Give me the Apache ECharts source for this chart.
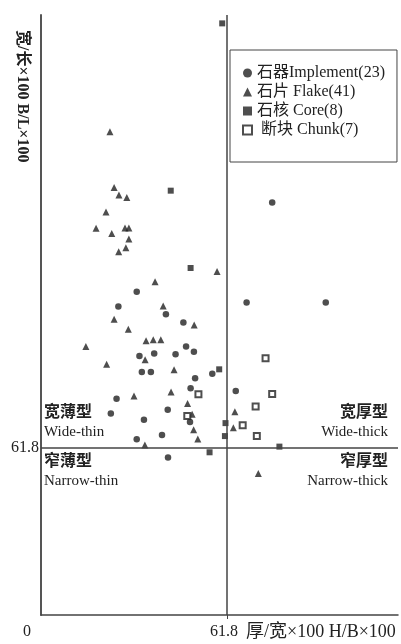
<!DOCTYPE html>
<html><head><meta charset="utf-8">
<script src="https://cdn.jsdelivr.net/npm/echarts@6/dist/echarts.min.js"></script>
<style>html,body{margin:0;padding:0;background:#fff}#c{width:401px;height:644px}</style>
</head><body><div id="c"></div>
<script>
// ---- data (x = 厚/宽×100, y = 宽/长×100) ----
const implementPts = [
  [76.8,152.6],[31.8,119.6],[25.7,114.1],[41.5,111.3],[68.3,115.6],[94.6,115.6],
  [47.3,108.2],[48.2,99.3],[32.7,95.8],[37.6,96.8],[44.7,96.5],[50.8,97.4],
  [33.5,89.9],[36.5,89.9],[56.9,89.3],[51.2,87.6],[49.7,83.9],[25.1,80.0],
  [64.7,82.9],[42.1,75.9],[23.2,74.6],[34.2,72.2],[49.5,71.4],[40.2,66.6],
  [31.8,65.0],[42.2,58.3]
];
const flakePts = [
  [22.9,178.8],[24.3,158.2],[25.9,155.4],[28.5,154.5],[21.6,149.1],[18.3,143.1],
  [23.5,141.2],[27.9,143.2],[29.2,143.2],[29.2,139.1],[25.8,134.4],[28.2,135.9],
  [58.5,127.1],[37.9,123.3],[40.6,114.3],[24.3,109.4],[50.9,107.3],[29.0,105.7],
  [34.9,101.5],[37.3,101.8],[39.8,101.8],[14.9,99.3],[34.6,94.4],[21.8,92.8],
  [44.2,90.7],[43.2,82.5],[30.9,81.0],[48.7,78.3],[50.2,74.3],[50.7,68.5],
  [52.1,65.1],[34.5,62.9],[64.4,75.2],[63.9,69.3],[72.2,52.4]
];
const corePts = [
  [60.2,218.9],[43.1,157.0],[49.7,128.4],[59.2,90.9],[61.3,71.0],[61.1,66.2],
  [79.2,62.3],[56.0,60.2]
];
const chunkPts = [
  [74.6,95.0],[52.3,81.7],[76.8,81.8],[71.3,77.1],[48.6,73.6],[67.0,70.2],[71.7,66.2]
];
const seriesNames = ['石器Implement(23)', '石片 Flake(41)', '石核 Core(8)', ' 断块 Chunk(7)'];
const xTickVals = [0, 61.8];
const yTickVals = [61.8];
const threshold = 61.8;
const xMax = 118.6, yMax = 222;
const xTitle = '厚/宽×100 H/B×100';
const yTitle = '宽/长×100 B/L×100';
const quadLabels = [
  ['宽薄型', 'Wide-thin'], ['窄薄型', 'Narrow-thin'],
  ['宽厚型', 'Wide-thick'], ['窄厚型', 'Narrow-thick']
];

const FONT = '"Liberation Serif", "Noto Sans CJK SC", serif';
const INK = '#222';
const chart = echarts.init(document.getElementById('c'), null, {renderer: 'canvas'});

const quadText = (x, y, align, lab) => ([
  {type:'text', x: x, y: y, style:{text: lab[0], font: 'bold 16px ' + FONT, fill: INK, textAlign: align, textVerticalAlign:'middle'}},
  {type:'text', x: x, y: y + 19, style:{text: lab[1], font: '15px ' + FONT, fill: INK, textAlign: align, textVerticalAlign:'middle'}}
]);

chart.setOption({
  animation: false,
  backgroundColor: '#fff',
  grid: {left: 41, right: 3, top: 15, bottom: 29, containLabel: false},
  legend: {
    orient: 'vertical', left: 230, top: 50,
    padding: [15, 12, 24, 12], itemGap: 3, itemWidth: 9, itemHeight: 9,
    backgroundColor: '#fff', borderColor: '#444', borderWidth: 1,
    selectedMode: false,
    textStyle: {fontFamily: FONT, fontSize: 16, color: INK, lineHeight: 16},
    data: seriesNames
  },
  xAxis: {
    type: 'value', min: 0, max: xMax,
    splitLine: {show: false},
    axisLine: {show: true, lineStyle: {color: '#444', width: 1.5}},
    axisTick: {show: true, customValues: [threshold], length: 4, lineStyle: {color: '#444'}},
    axisLabel: {
      customValues: xTickVals, margin: 9,
      formatter: v => v === 0 ? '{z|0}' : '{n|' + v + '}',
      rich: {
        z: {fontFamily: FONT, fontSize: 16, color: INK, padding: [0, 28, 0, 0]},
        n: {fontFamily: FONT, fontSize: 16, color: INK, padding: [0, 6, 0, 0]}
      }
    }
  },
  yAxis: {
    type: 'value', min: 0, max: yMax,
    splitLine: {show: false},
    axisLine: {show: true, lineStyle: {color: '#555', width: 2}},
    axisTick: {show: false},
    axisLabel: {customValues: yTickVals, margin: 2, fontFamily: FONT, fontSize: 16, color: INK}
  },
  series: [
    {name: seriesNames[0], type: 'scatter', data: implementPts, symbol: 'circle', symbolSize: 6.5,
     itemStyle: {color: INK},
     markLine: {silent: true, symbol: 'none', label: {show: false},
       lineStyle: {type: 'solid', color: '#444', width: 1.5},
       data: [{xAxis: threshold}, {yAxis: threshold}]}},
    {name: seriesNames[1], type: 'scatter', data: flakePts, symbol: 'triangle', symbolSize: 7,
     itemStyle: {color: INK}},
    {name: seriesNames[2], type: 'scatter', data: corePts, symbol: 'rect', symbolSize: 6,
     itemStyle: {color: INK}},
    {name: seriesNames[3], type: 'scatter', data: chunkPts, symbol: 'emptyRect', symbolSize: 6,
     itemStyle: {color: INK, borderColor: INK, borderWidth: 1}}
  ],
  graphic: [
    {type: 'text', x: 22, y: 30, rotation: -Math.PI / 2,
     style: {text: yTitle, font: 'bold 16px ' + FONT, fill: INK, textAlign: 'left', textVerticalAlign: 'middle'}},
    {type: 'text', x: 246, y: 632,
     style: {text: xTitle, font: '18px ' + FONT, fill: INK, textAlign: 'left', textVerticalAlign: 'middle'}},
    ...quadText(44, 413, 'left', quadLabels[0]),
    ...quadText(44, 462, 'left', quadLabels[1]),
    ...quadText(388, 413, 'right', quadLabels[2]),
    ...quadText(388, 462, 'right', quadLabels[3])
  ]
});
</script></body></html>
